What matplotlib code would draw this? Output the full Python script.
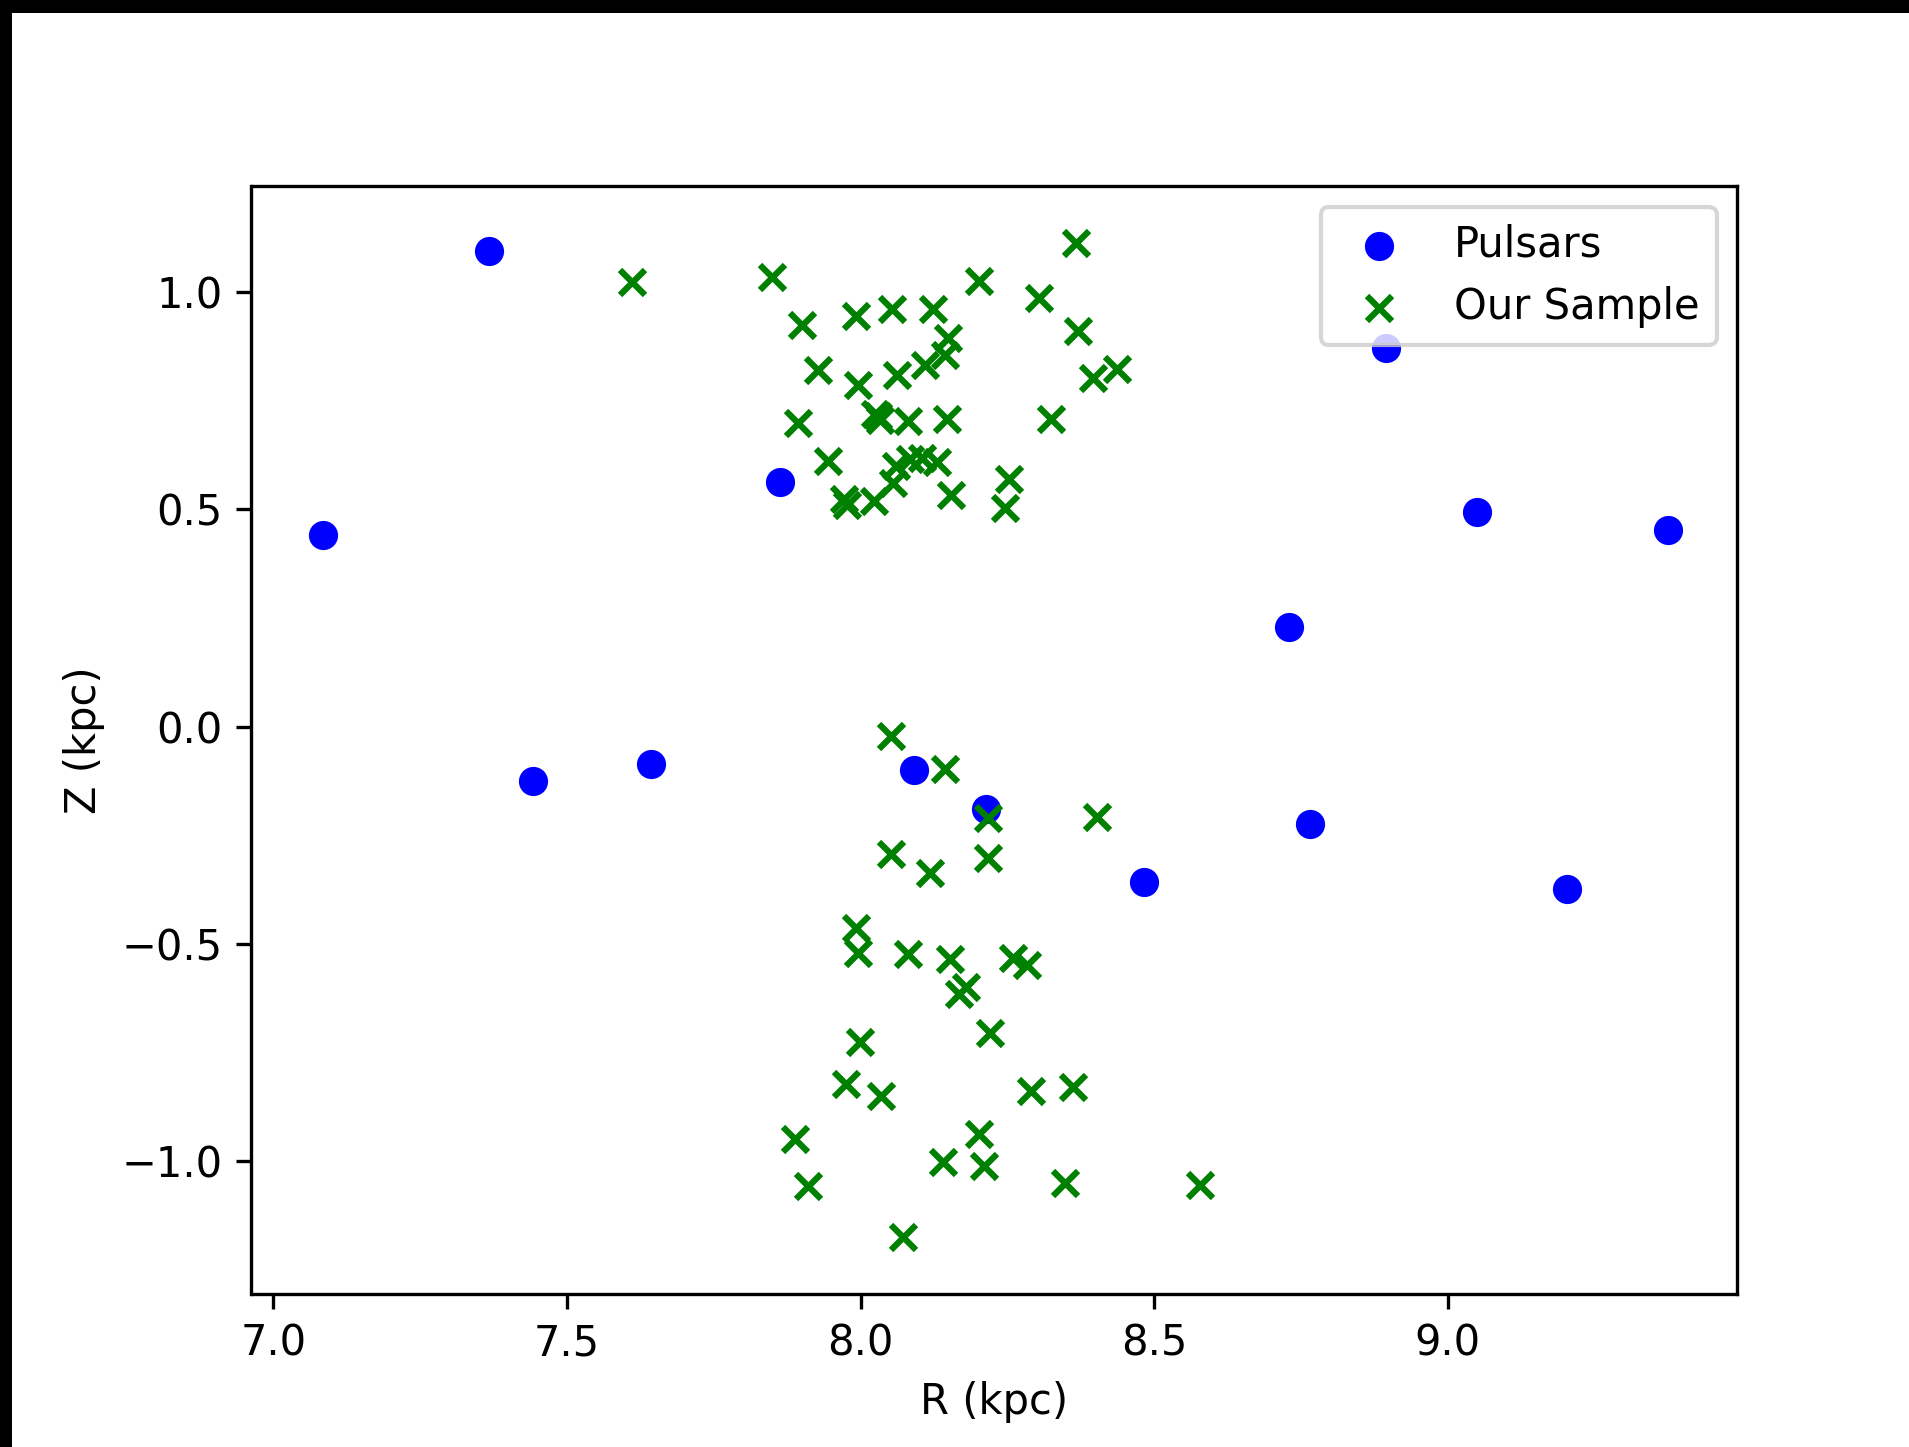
import matplotlib
matplotlib.use("Agg")
import matplotlib.pyplot as plt
from matplotlib.patches import Rectangle

# Galactocentric radius R and height Z (kpc) of the known pulsars
pulsar_R = [7.367, 7.084, 7.863, 8.894, 9.050, 9.374, 8.730,
            7.442, 7.643, 8.091, 8.214, 8.766, 8.483, 9.203]
pulsar_Z = [1.095, 0.442, 0.562, 0.871, 0.495, 0.453, 0.229,
            -0.125, -0.086, -0.100, -0.189, -0.223, -0.358, -0.374]

# Our sample: northern group (Z > 0)
sample_R_north = [7.611, 7.850, 7.901, 7.993, 8.053, 8.124, 8.202, 8.366,
                  8.304, 8.371, 7.927, 7.996, 8.062, 8.110, 8.149, 8.144,
                  8.396, 8.437, 7.894, 8.025, 8.033, 8.030, 8.081, 8.147,
                  8.325, 7.945, 8.061, 8.084, 8.104, 8.130, 8.056, 8.253,
                  7.971, 7.977, 8.022, 8.154, 8.246]
sample_Z_north = [1.023, 1.035, 0.924, 0.944, 0.962, 0.962, 1.025, 1.113,
                  0.987, 0.910, 0.820, 0.787, 0.810, 0.833, 0.895, 0.856,
                  0.803, 0.822, 0.699, 0.720, 0.705, 0.715, 0.703, 0.708,
                  0.707, 0.611, 0.599, 0.615, 0.619, 0.609, 0.561, 0.569,
                  0.523, 0.510, 0.519, 0.534, 0.504]

# Our sample: southern group (Z < 0)
sample_R_south = [8.052, 8.144, 8.217, 8.052, 8.118, 8.217, 7.992, 7.996,
                  8.080, 8.153, 8.402, 8.260, 8.284, 8.168, 8.180, 8.220,
                  7.999, 7.975, 8.034, 8.290, 8.361, 7.888, 8.202, 7.911,
                  8.141, 8.210, 8.348, 8.578, 8.073]
sample_Z_south = [-0.022, -0.098, -0.211, -0.294, -0.336, -0.301, -0.463, -0.520,
                  -0.522, -0.535, -0.207, -0.531, -0.549, -0.615, -0.598, -0.704,
                  -0.726, -0.821, -0.850, -0.838, -0.830, -0.949, -0.938, -1.057,
                  -1.002, -1.011, -1.049, -1.055, -1.175]

sample_R = sample_R_north + sample_R_south
sample_Z = sample_Z_north + sample_Z_south

W, H, DPI = 1910, 1447, 300
fig = plt.figure(figsize=(W / DPI, H / DPI), dpi=DPI, facecolor="white")

left, right, top, bottom = 251.5, 1737.5, 186.0, 1293.5
ax = fig.add_axes([left / W, 1 - bottom / H, (right - left) / W, (bottom - top) / H])

ax.scatter(pulsar_R, pulsar_Z, c="blue", marker="o", label="Pulsars")
ax.scatter(sample_R, sample_Z, c="green", marker="x", label="Our Sample")

ax.set_xlim(6.963, 9.493)
ax.set_ylim(-1.304, 1.244)
ax.set_xticks([7.0, 7.5, 8.0, 8.5, 9.0])
ax.set_yticks([-1.0, -0.5, 0.0, 0.5, 1.0])
ax.set_xlabel("R (kpc)")
ax.set_ylabel("Z (kpc)")
ax.legend(loc="upper right")

# dark frame along the top and left edges
fig.add_artist(Rectangle((0, 1 - 13 / H), 1, 13 / H, transform=fig.transFigure,
                         facecolor="black", edgecolor="none", zorder=10))
fig.add_artist(Rectangle((0, 0), 12 / W, 1, transform=fig.transFigure,
                         facecolor="black", edgecolor="none", zorder=10))

fig.savefig("out.png", dpi=DPI, facecolor="white")
